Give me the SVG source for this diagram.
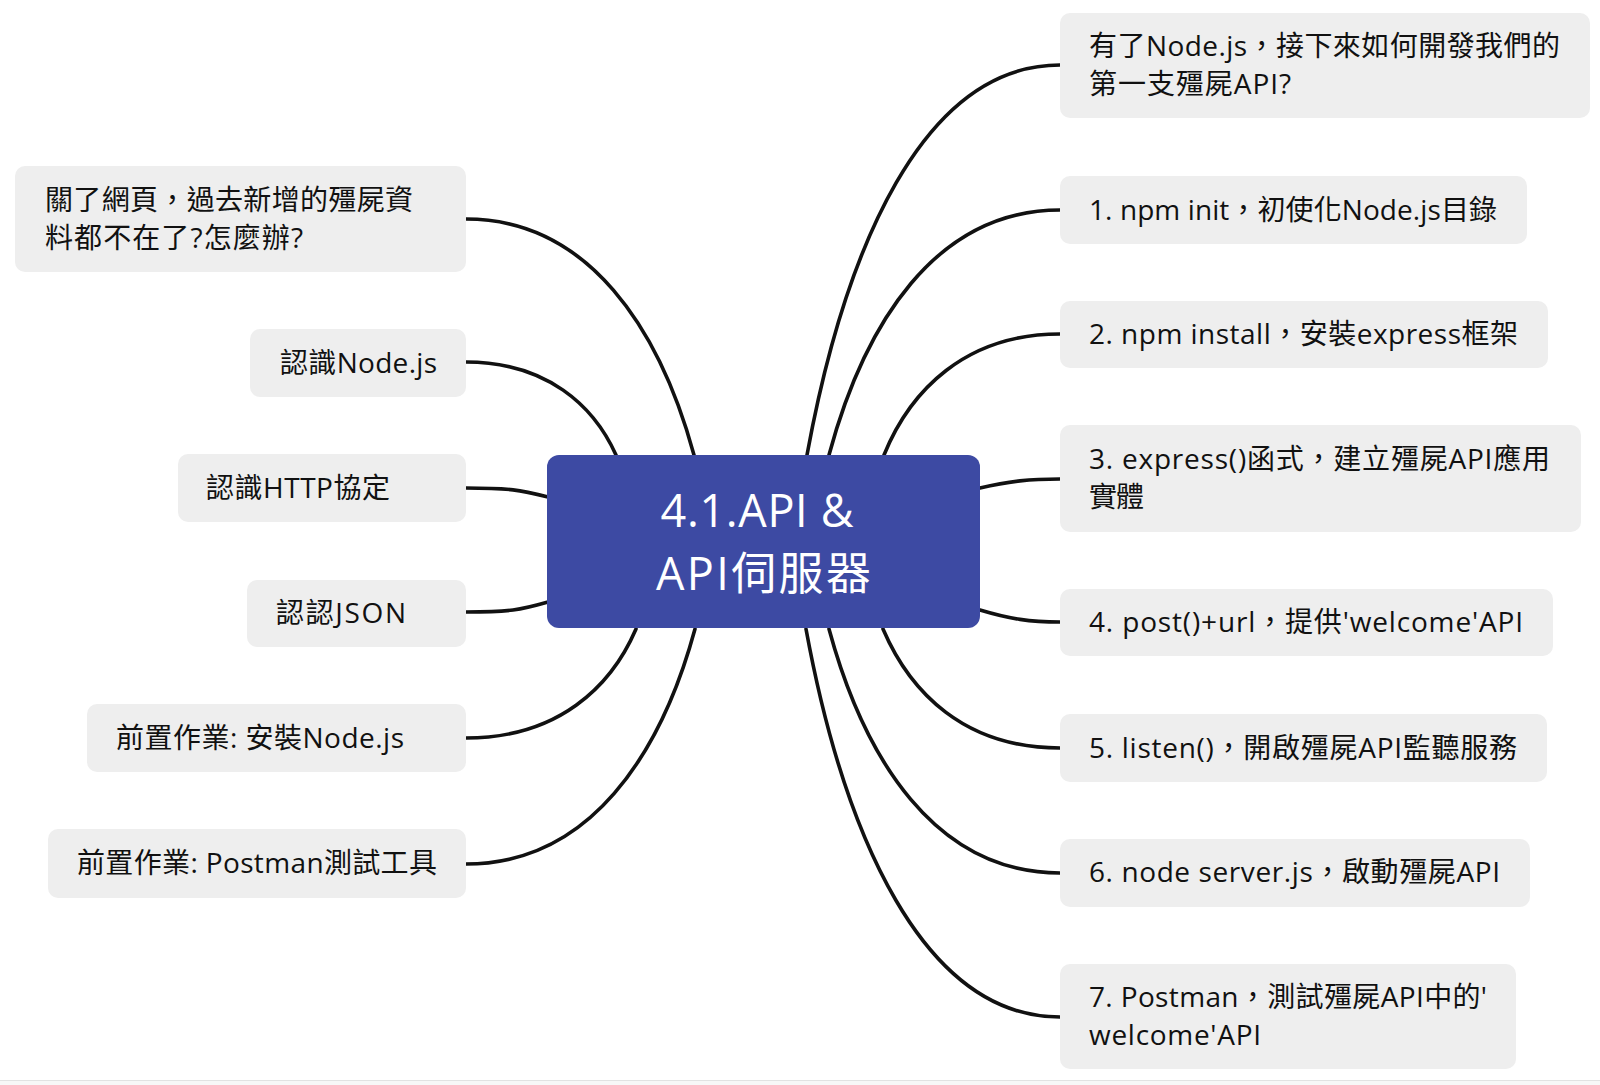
<svg xmlns="http://www.w3.org/2000/svg" width="1600" height="1085" viewBox="0 0 1600 1085">
<style>
.bg{fill:#ffffff}
.node rect{fill:#eeeeee}
.t{font-family:"Open Sans","Noto Sans CJK TC",sans-serif;font-size:28px;fill:#111111}
.ct{font-family:"Open Sans","Noto Sans CJK TC",sans-serif;font-size:45px;fill:#ffffff;text-anchor:middle}
.c{fill:none;stroke:#111111;stroke-width:3.6;stroke-linecap:round}
</style>
<rect class="bg" x="0" y="0" width="1600" height="1085"/>
<rect x="0" y="1080" width="1600" height="5" fill="#f7f7f7"/>
<line x1="0" y1="1080.5" x2="1600" y2="1080.5" stroke="#e2e2e2" stroke-width="1"/>

<g id="connectors">
<path class="c" d="M466 219 C589 219 660 330 694 455"/>
<path class="c" d="M466 362 C547 362 594 406 616 455"/>
<path class="c" d="M466 488 C510 488 520 490 548 497"/>
<path class="c" d="M466 612 C510 612 520 610 548 602"/>
<path class="c" d="M466 738 C558 738 611 687 636 629"/>
<path class="c" d="M466 864 C590 864 661 754 695 629"/>
<path class="c" d="M1060 65 C923 65 845 248 807 455"/>
<path class="c" d="M1060 210 C935 210 864 325 829 455"/>
<path class="c" d="M1060 334 C965 334 910 391 884 455"/>
<path class="c" d="M980 488 C1010 481 1030 479 1060 479"/>
<path class="c" d="M980 610 C1010 619 1030 622 1060 622"/>
<path class="c" d="M1060 748 C964 748 910 692 883 629"/>
<path class="c" d="M1060 873 C935 873 864 758 829 629"/>
<path class="c" d="M1060 1017 C923 1017 844 835 806 629"/>
</g>

<g id="root">
<rect x="547" y="455" width="433" height="173" rx="12" fill="#3d4aa3"/>
<text class="ct" x="757" y="527" textLength="193">4.1.API &amp;</text>
<text class="ct" x="763.5" y="590" textLength="215">API伺服器</text>
</g>

<g id="n-l1" class="node">
<rect x="15" y="166" width="451" height="106" rx="10"/>
<text class="t" x="45" y="210" textLength="368">關了網頁，過去新增的殭屍資</text>
<text class="t" x="45" y="248" textLength="258">料都不在了?怎麼辦?</text>
</g>
<g id="n-l2" class="node">
<rect x="250" y="329" width="216" height="68" rx="10"/>
<text class="t" x="280" y="373" textLength="157">認識Node.js</text>
</g>
<g id="n-l3" class="node">
<rect x="178" y="454" width="288" height="68" rx="10"/>
<text class="t" x="206" y="498" textLength="184">認識HTTP協定</text>
</g>
<g id="n-l4" class="node">
<rect x="247" y="580" width="219" height="67" rx="10"/>
<text class="t" x="276" y="623" textLength="130">認認JSON</text>
</g>
<g id="n-l5" class="node">
<rect x="87" y="704" width="379" height="68" rx="10"/>
<text class="t" x="116" y="748" textLength="288">前置作業: 安裝Node.js</text>
</g>
<g id="n-l6" class="node">
<rect x="48" y="829" width="418" height="69" rx="10"/>
<text class="t" x="77" y="873" textLength="360">前置作業: Postman測試工具</text>
</g>

<g id="n-r1" class="node">
<rect x="1060" y="13" width="530" height="105" rx="10"/>
<text class="t" x="1089" y="56" textLength="471">有了Node.js，接下來如何開發我們的</text>
<text class="t" x="1089" y="94" textLength="202">第一支殭屍API?</text>
</g>
<g id="n-r2" class="node">
<rect x="1060" y="176" width="467" height="68" rx="10"/>
<text class="t" x="1089" y="220" textLength="408">1. npm init，初使化Node.js目錄</text>
</g>
<g id="n-r3" class="node">
<rect x="1060" y="301" width="488" height="67" rx="10"/>
<text class="t" x="1089" y="344" textLength="429">2. npm install，安裝express框架</text>
</g>
<g id="n-r4" class="node">
<rect x="1060" y="425" width="521" height="107" rx="10"/>
<text class="t" x="1089" y="469" textLength="461">3. express()函式，建立殭屍API應用</text>
<text class="t" x="1089" y="507" textLength="55">實體</text>
</g>
<g id="n-r5" class="node">
<rect x="1060" y="589" width="493" height="67" rx="10"/>
<text class="t" x="1089" y="632" textLength="434">4. post()+url，提供'welcome'API</text>
</g>
<g id="n-r6" class="node">
<rect x="1060" y="714" width="487" height="68" rx="10"/>
<text class="t" x="1089" y="758" textLength="428">5. listen()，開啟殭屍API監聽服務</text>
</g>
<g id="n-r7" class="node">
<rect x="1060" y="839" width="470" height="68" rx="10"/>
<text class="t" x="1089" y="882" textLength="411">6. node server.js，啟動殭屍API</text>
</g>
<g id="n-r8" class="node">
<rect x="1060" y="964" width="456" height="105" rx="10"/>
<text class="t" x="1089" y="1007" textLength="398">7. Postman，測試殭屍API中的'</text>
<text class="t" x="1089" y="1045" textLength="172">welcome'API</text>
</g>
</svg>
